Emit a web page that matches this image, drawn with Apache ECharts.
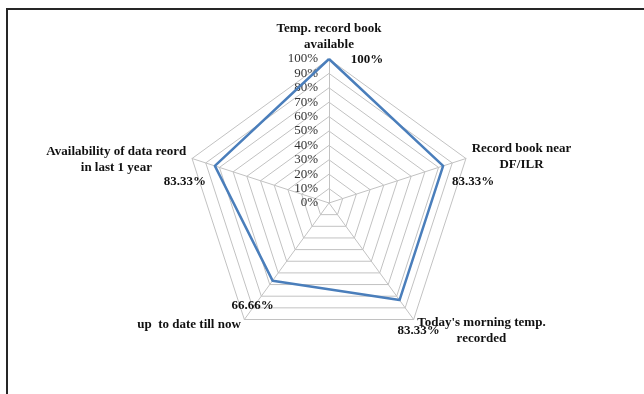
<!DOCTYPE html>
<html>
<head>
<meta charset="utf-8">
<script src="https://cdn.jsdelivr.net/npm/echarts@6/dist/echarts.min.js"></script>
<style>
  html, body { margin: 0; padding: 0; background: #fff; overflow: hidden; }
  body { width: 644px; height: 394px; position: relative; }
  #frame {
    position: absolute; left: 6px; top: 8px; width: 700px; height: 500px;
    border-left: 2px solid #262626; border-top: 2px solid #262626;
  }
  #chart { position: absolute; left: 0; top: 0; width: 644px; height: 394px; }
</style>
</head>
<body>
<div id="frame"></div>
<div id="chart"></div>
<script>
// Indicators in ECharts order: top first, then counter-clockwise
const indicatorNames = [
  'Temp. record book\navailable',
  'Availability of data reord\nin last 1 year',
  'up  to date till now',
  "Today's morning temp.\nrecorded",
  'Record book near\nDF/ILR'
];
const values = [100, 83.33, 66.66, 83.33, 83.33];
const axisMax = 100;
const splitCount = 10;

// Where each value label sits relative to its vertex [dx, dy]
const labelOffsets = [[38, 1], [-30, 16], [-20, 25], [19, 31], [30, 16]];
// Extra leading space (px) above a name block, per indicator
const nameLead = [0, 6, 0, 12, 0];

const serif = '"Liberation Serif", "Times New Roman", serif';

const chart = echarts.init(document.getElementById('chart'), null, { renderer: 'canvas' });

const indicator = indicatorNames.map((name, i) => {
  const item = { name: name, max: axisMax, min: 0 };
  item.axisLabel = i === 0
    ? { show: true, formatter: v => v + '%', align: 'right', margin: 11,
        color: '#333', fontFamily: serif, fontSize: 13 }
    : { show: false };
  return item;
});

// Names: each line centred within its block, optional spacer line on top
function nameFormatter(name) {
  const idx = indicatorNames.indexOf(name);
  const lines = name.split('\n').map(line => '{c|' + line + '}');
  if (nameLead[idx] > 0) lines.unshift('{s' + nameLead[idx] + '| }');
  return lines.join('\n');
}

const labelSeriesData = values.map((v, dim) => ({
  value: values,
  symbol: 'circle',
  symbolSize: 0.01,
  lineStyle: { width: 0, color: 'transparent' },
  itemStyle: { color: 'transparent' },
  label: {
    show: true,
    position: labelOffsets[dim],
    align: 'center',
    verticalAlign: 'middle',
    color: '#111',
    fontFamily: serif,
    fontWeight: 'bold',
    fontSize: 13,
    formatter: p => (p.dimensionIndex === dim ? values[dim] + '%' : '')
  }
}));

chart.setOption({
  animation: false,
  backgroundColor: 'transparent',
  radar: {
    center: [329, 203],
    radius: 144,
    startAngle: 90,
    shape: 'polygon',
    splitNumber: splitCount,
    indicator: indicator,
    nameGap: 6,
    axisName: {
      formatter: nameFormatter,
      color: '#111',
      fontFamily: serif,
      fontWeight: 'bold',
      fontSize: 13,
      rich: {
        c: { align: 'center', lineHeight: 16, fontFamily: serif, fontWeight: 'bold', fontSize: 13, color: '#111' },
        s6: { lineHeight: 6, fontSize: 4 },
        s12: { lineHeight: 12, fontSize: 4 }
      }
    },
    axisLine: { lineStyle: { color: '#c2c2c2', width: 1 } },
    splitLine: { lineStyle: { color: '#c2c2c2', width: 1 } },
    splitArea: { show: false },
    axisTick: { show: false }
  },
  series: [
    {
      type: 'radar',
      silent: true,
      data: [
        {
          value: values,
          symbol: 'none',
          lineStyle: { color: '#4a7ebb', width: 2.5 },
          itemStyle: { color: '#4a7ebb' }
        }
      ].concat(labelSeriesData)
    }
  ]
});
</script>
</body>
</html>
